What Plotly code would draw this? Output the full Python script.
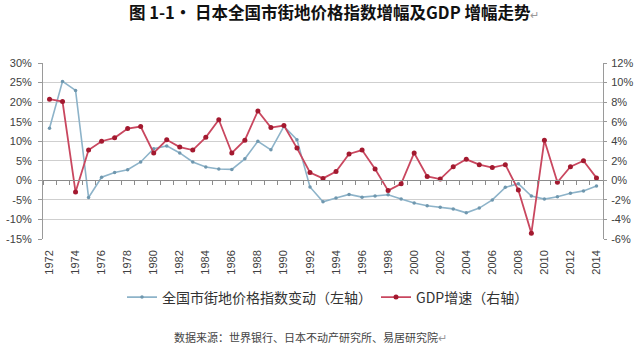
import plotly.graph_objects as go

years = list(range(1972, 2015))

land_price_change = [13.3, 25.3, 23.0, -4.4, 0.8, 2.0, 2.7, 4.7, 8.1, 8.8,
                     7.0, 4.7, 3.4, 2.9, 2.8, 5.5, 10.0, 7.8, 13.8, 10.4,
                     -1.7, -5.5, -4.5, -3.6, -4.3, -4.0, -3.7, -4.8, -5.8, -6.5,
                     -6.9, -7.3, -8.3, -7.1, -5.0, -1.8, -0.85, -4.0, -4.8, -4.2,
                     -3.3, -2.7, -1.45]

gdp_growth = [8.3, 8.05, -1.2, 3.1, 4.0, 4.35, 5.3, 5.5, 2.8, 4.15,
              3.4, 3.1, 4.4, 6.2, 2.8, 4.1, 7.1, 5.4, 5.6, 3.3,
              0.8, 0.2, 0.9, 2.7, 3.1, 1.15, -1.05, -0.35, 2.8, 0.4,
              0.13, 1.4, 2.15, 1.6, 1.3, 1.6, -1.0, -5.4, 4.1, -0.2,
              1.4, 2.0, 0.25]

left_ticks = list(range(-15, 31, 5))
right_ticks = list(range(-6, 13, 2))
year_ticks = list(range(1972, 2015, 2))

series_names = ["全国市街地价格指数变动（左轴）", "GDP增速（右轴）"]
title_text = "图 1-1· 日本全国市街地价格指数增幅及GDP 增幅走势"
source_text = "数据来源：世界银行、日本不动产研究所、易居研究院"

tick_font = dict(family="Liberation Sans, Arial", size=11, color="#404040")
cjk = "Noto Sans CJK SC"

fig = go.Figure()
fig.add_trace(go.Scatter(
    x=years, y=land_price_change, name=series_names[0],
    mode="lines+markers", xaxis="x", yaxis="y", legend="legend",
    line=dict(color="#8db3c9", width=1.6),
    marker=dict(color="#6f97ae", size=3.5),
))
fig.add_trace(go.Scatter(
    x=years, y=gdp_growth, name=series_names[1],
    mode="lines+markers", xaxis="x2", yaxis="y2", legend="legend2",
    line=dict(color="#c9475f", width=1.8),
    marker=dict(color="#a3192f", size=5),
))

legend_style = dict(
    orientation="h", xanchor="left", y=(239.3 - 298) / 176.6, yanchor="middle",
    font=dict(family=cjk, size=14, color="#333"),
    itemwidth=30, bgcolor="rgba(0,0,0,0)",
)

fig.update_layout(
    width=640, height=357,
    margin=dict(l=43, r=37, t=63, b=118, autoexpand=False),
    paper_bgcolor="white", plot_bgcolor="white",
    showlegend=True,
    title=dict(
        text="<b>" + title_text + "</b><span style='color:#999;font-size:11px'>↵</span>",
        font=dict(family=cjk, size=16.5, color="#111"),
        x=0.52, xanchor="center", xref="paper", y=0.962, yanchor="middle", yref="container",
    ),
    xaxis=dict(
        range=[1971.5, 2014.5], tickvals=year_ticks, ticktext=[str(y) for y in year_ticks],
        tickangle=-90, showgrid=False, showline=False, zeroline=False,
        ticks="", tickfont=tick_font, ticklabelstandoff=8, automargin=False,
    ),
    xaxis2=dict(
        overlaying="x", anchor="free", position=1/3, side="bottom",
        range=[1971.5, 2014.5], tick0=1971.5, dtick=1,
        ticks="outside", ticklen=4, tickcolor="#8c8c8c", tickwidth=1,
        showticklabels=False, showgrid=False, zeroline=False,
        showline=True, linecolor="#8c8c8c", linewidth=1, automargin=False,
    ),
    yaxis=dict(
        range=[-15, 30], tickvals=left_ticks, ticktext=[f"{v}%" for v in left_ticks],
        showgrid=True, gridcolor="#cfcfcf", gridwidth=1, zeroline=False,
        showline=True, linecolor="#9a9a9a", linewidth=1,
        ticks="outside", ticklen=4, tickcolor="#9a9a9a",
        tickfont=tick_font, ticklabelstandoff=4, automargin=False,
    ),
    yaxis2=dict(
        range=[-6, 12], tickvals=right_ticks, ticktext=[f"{v}%" for v in right_ticks],
        overlaying="y", side="right", anchor="x",
        showgrid=False, zeroline=False,
        showline=True, linecolor="#9a9a9a", linewidth=1,
        ticks="outside", ticklen=3, tickcolor="#9a9a9a",
        tickfont=tick_font, ticklabelstandoff=2, automargin=False,
    ),
    legend=dict(x=(122 - 43) / 560, **legend_style),
    legend2=dict(x=(376 - 43) / 560, **legend_style),
)

fig.add_annotation(
    text=source_text + "<span style='color:#999'>↵</span>",
    xref="paper", yref="paper", x=(310 - 43) / 560, y=(239.3 - 338) / 176.6,
    xanchor="center", yanchor="middle", showarrow=False,
    font=dict(family=cjk, size=11, color="#444"),
)

fig.write_html("out.html", config={"displayModeBar": False},
               post_script="document.body.style.margin='0';")
